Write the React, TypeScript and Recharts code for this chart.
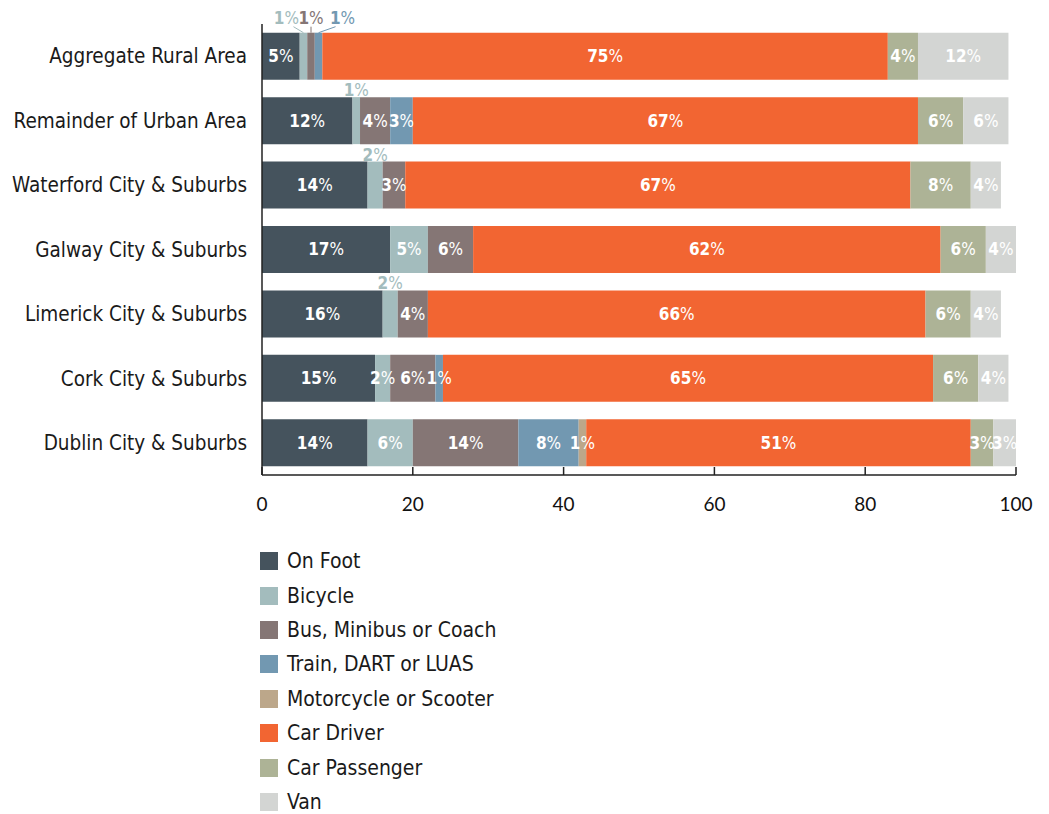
import { Bar, BarChart, LabelList, Legend, XAxis, YAxis } from "recharts";

const categories = [
  "Aggregate Rural Area",
  "Remainder of Urban Area",
  "Waterford City & Suburbs",
  "Galway City & Suburbs",
  "Limerick City & Suburbs",
  "Cork City & Suburbs",
  "Dublin City & Suburbs",
];

const onFoot = [5, 12, 14, 17, 16, 15, 14];
const bicycle = [1, 1, 2, 5, 2, 2, 6];
const bus = [1, 4, 3, 6, 4, 6, 14];
const train = [1, 3, 0, 0, 0, 1, 8];
const motorcycle = [0, 0, 0, 0, 0, 0, 1];
const carDriver = [75, 67, 67, 62, 66, 65, 51];
const carPassenger = [4, 6, 8, 6, 6, 6, 3];
const van = [12, 6, 4, 4, 4, 4, 3];

const xTicks = [0, 20, 40, 60, 80, 100];

const series = [
  { key: "onFoot", name: "On Foot", color: "#45535d", values: onFoot },
  { key: "bicycle", name: "Bicycle", color: "#a3bcbd", values: bicycle },
  { key: "bus", name: "Bus, Minibus or Coach", color: "#857675", values: bus },
  { key: "train", name: "Train, DART or LUAS", color: "#7298b1", values: train },
  { key: "motorcycle", name: "Motorcycle or Scooter", color: "#bca78a", values: motorcycle },
  { key: "carDriver", name: "Car Driver", color: "#f26532", values: carDriver },
  { key: "carPassenger", name: "Car Passenger", color: "#adb396", values: carPassenger },
  { key: "van", name: "Van", color: "#d3d5d3", values: van },
];

const data = categories.map((name, i) => {
  const row: Record<string, string | number> = { name };
  series.forEach((s) => {
    row[s.key] = s.values[i];
  });
  return row;
});

const narrow = "'Liberation Sans Narrow', 'DejaVu Sans Condensed', 'Roboto Condensed', Roboto, sans-serif";
const tickFont = "Lato, 'Open Sans', sans-serif";

// labels that sit above the bar instead of inside it (row index | series key)
const raised: Record<string, { dx: number; lift: number; lead?: boolean }> = {
  "0|bicycle": { dx: -17, lift: 9, lead: true },
  "0|bus": { dx: 0, lift: 9, lead: true },
  "0|train": { dx: 24, lift: 9, lead: true },
  "1|bicycle": { dx: 0, lift: 1 },
  "2|bicycle": { dx: 0, lift: 1 },
  "4|bicycle": { dx: 0, lift: 1 },
};

function makeLabel(key: string, color: string) {
  return (props: any) => {
    const vb = props.viewBox || props;
    const x = Number(props.x ?? vb.x);
    const y = Number(props.y ?? vb.y);
    const width = Number(props.width ?? vb.width);
    const height = Number(props.height ?? vb.height);
    const value = props.value;
    if (!value) return null;
    const cx = x + width / 2;
    const spec = raised[`${props.index}|${key}`];
    if (spec) {
      const lx = cx + spec.dx;
      const base = y - spec.lift;
      return (
        <g>
          {spec.lead && (
            <line
              x1={lx + (spec.dx < 0 ? 7 : spec.dx > 0 ? -7 : 0)}
              y1={base + 3}
              x2={cx}
              y2={y}
              stroke={color}
              strokeWidth={1}
            />
          )}
          <text x={lx} y={base} textAnchor="middle" fill={color} fontSize={17} fontFamily={narrow}>
            <tspan fontWeight={700}>{value}</tspan>
            <tspan fontWeight={400}>%</tspan>
          </text>
        </g>
      );
    }
    return (
      <text
        x={cx}
        y={y + height / 2}
        textAnchor="middle"
        dominantBaseline="central"
        fill="#ffffff"
        fontSize={17}
        fontFamily={narrow}
      >
        <tspan fontWeight={700}>{value}</tspan>
        <tspan fontWeight={400}>%</tspan>
      </text>
    );
  };
}

function XTick(props: any) {
  const { x, y, payload } = props;
  return (
    <g>
      <line x1={x} y1={y - 8} x2={x} y2={y} stroke="#222" strokeWidth={1.5} />
      <text x={x} y={y + 28} textAnchor="middle" dominantBaseline="central" fill="#111" fontSize={19} fontFamily={tickFont}>
        {payload.value}
      </text>
    </g>
  );
}

function LegendBox() {
  return (
    <div style={{ fontFamily: narrow, fontSize: 21, color: "#1a1a1a" }}>
      {series.map((s) => (
        <div key={s.key} style={{ display: "flex", alignItems: "center", height: 34.4 }}>
          <span style={{ width: 18, height: 18, background: s.color, display: "inline-block", marginRight: 9 }} />
          <span>{s.name}</span>
        </div>
      ))}
    </div>
  );
}

export default function App() {
  return (
    <BarChart
      width={1041}
      height={806}
      data={data}
      layout="vertical"
      barCategoryGap="13.5%"
      margin={{ top: 16, right: 33, left: 0, bottom: 309 }}
    >
      <XAxis
        type="number"
        domain={[0, 100]}
        ticks={xTicks}
        height={30}
        axisLine={{ stroke: "#222", strokeWidth: 1.5 }}
        tickLine={false}
        tickSize={0}
        tickMargin={0}
        tick={<XTick />}
        interval={0}
      />
      <YAxis
        type="category"
        dataKey="name"
        width={254}
        axisLine={{ stroke: "#222", strokeWidth: 1.5 }}
        tickLine={false}
        tickSize={0}
        tickMargin={15}
        tick={{ fill: "#1a1a1a", fontSize: 20.5, fontFamily: narrow }}
        interval={0}
      />
      <Legend
        layout="horizontal"
        verticalAlign="middle"
        align="center"
        wrapperStyle={{ top: 536, left: 252, width: 400 }}
        content={<LegendBox />}
      />
      {series.map((s) => (
        <Bar key={s.key} dataKey={s.key} name={s.name} stackId="a" fill={s.color} isAnimationActive={false}>
          <LabelList dataKey={s.key} content={makeLabel(s.key, s.color)} />
        </Bar>
      ))}
    </BarChart>
  );
}
